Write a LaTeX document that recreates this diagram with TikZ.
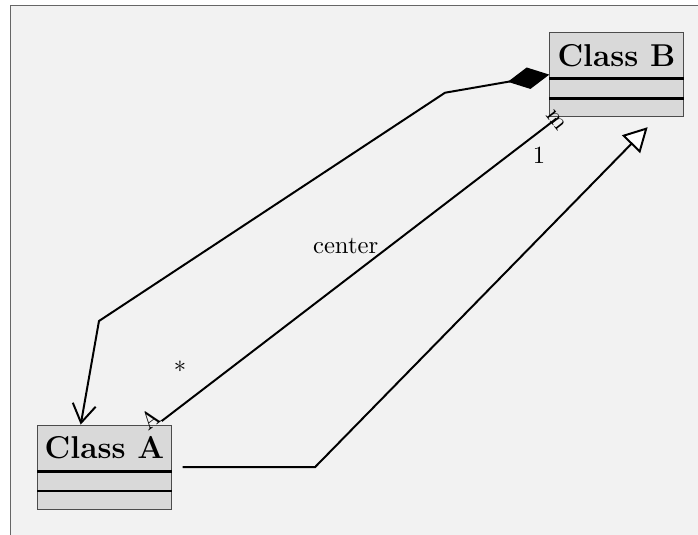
\documentclass[tikz,border=0pt]{standalone}
\usetikzlibrary{positioning,arrows.meta}
\tikzset{
  umlclass/.style={rectangle,draw=black!70,fill=gray!30,minimum width=1.9cm,minimum height=1.2cm,inner sep=0pt},
  classname/.style={rectangle,minimum width=1.9cm,minimum height=0.65cm,inner sep=0pt,font=\fontsize{12.8pt}{15pt}\selectfont\bfseries},
  classpart/.style={rectangle,minimum width=1.9cm,minimum height=0.27cm,inner sep=0pt},
  divider/.style={line width=1.1pt},
  umlline/.style={thick},
  endglyph/.style={inner sep=0pt,font=\normalsize}
}
\begin{document}
\begin{tikzpicture}
    \useasboundingbox (0,0) rectangle (9.943,7.607);
    \draw[draw=black!60,fill=gray!10] (0.15,-0.5) rectangle (10.5,7.53);

    \node at (1.489,0.952) [umlclass] (A) {};
    \node at (A.north) [classname,anchor=north] (Aname) {Class A};
    \node [classpart,below=0pt of Aname] (Aattr) {};
    \draw[divider] (Aname.south west) -- (Aname.south east);
    \draw[divider] (Aattr.south west) -- (Aattr.south east);

    \node at (8.782,6.544) [umlclass] (B) {};
    \node at (B.north) [classname,anchor=north] (Bname) {Class B};
    \node [classpart,below=0pt of Bname] (Battr) {};
    \draw[divider] (Bname.south west) -- (Bname.south east);
    \draw[divider] (Battr.south west) -- (Battr.south east);

    \coordinate (k1) at (6.339,6.286);
    \coordinate (k2) at (1.410,3.034);
    \coordinate (g1) at (4.487,0.952);

    % composition
    \draw[umlline,{Diamond[length=6mm,width=3.1mm]}-{Straight Barb[length=2.6mm,width=3.3mm]}]
      (B.west) -- (k1) -- (k2) -- ([xshift=-0.339cm]A.north);
    % association
    \draw[umlline] ([xshift=0.814cm,yshift=0.05cm]A.north)
      -- node[midway,xshift=-0.19cm,yshift=0.34cm] (lcenter) {center}
      ([xshift=0.1cm,yshift=-0.02cm]B.south west);
    \node at (2.150,1.640) [endglyph,rotate=37] (eA) {A};
    \node at (7.925,5.890) [endglyph,rotate=-52] (eB) {m};
    \node at (7.678,5.271) [anchor=base] (mB) {1};
    \node at (2.564,2.194) [anchor=base] (mA) {*};
    % generalization
    \draw[umlline,-{Triangle[open,fill=white,length=3.4mm,width=3.6mm]}]
      ([xshift=0.157cm]A.east) -- (g1) -- ([xshift=0.444cm,yshift=-0.142cm]B.south);
\end{tikzpicture}
\end{document}
